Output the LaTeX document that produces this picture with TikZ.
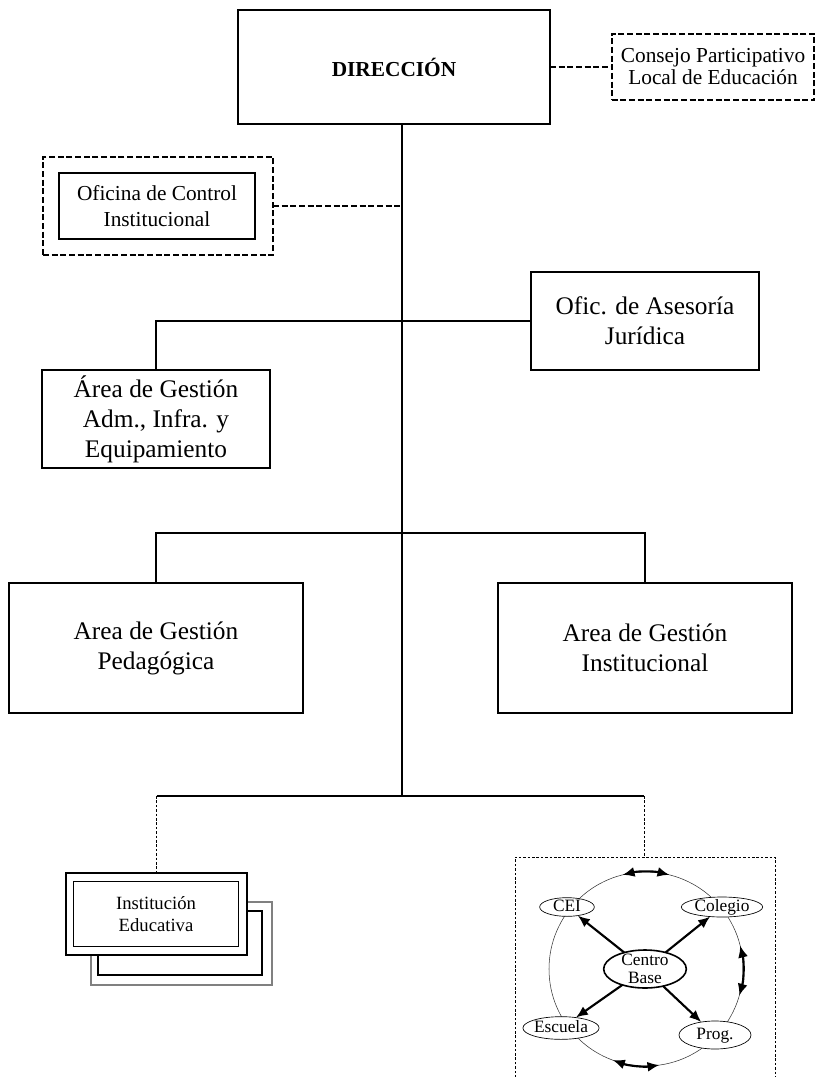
\documentclass[tikz,border=0pt]{standalone}
\usepackage{fontspec}
\setmainfont{Liberation Serif}
\usetikzlibrary{shapes.geometric,arrows.meta}

\begin{document}
\begin{tikzpicture}[x=0.75pt,y=-0.75pt]
\tikzstyle{every node}+=[inner sep=0pt, outer sep=0pt, align=center]
\tikzstyle{caja}=[draw=black, line width=1.6pt, fill=white]
\tikzstyle{cajapunt}=[draw=black, line width=1.5pt, dash pattern=on 4.5pt off 2pt]
\tikzstyle{linea}=[black, line width=1.8pt]
\tikzstyle{punteada}=[black, line width=1.5pt, dash pattern=on 4.5pt off 2pt]
\tikzstyle{fina}=[black, line width=0.6pt, dash pattern=on 2pt off 1.3pt]
\tikzstyle{elip}=[draw=black, ellipse, fill=white, line width=0.5pt, font=\fontsize{13}{13.5}\selectfont, text height=8.5pt, text depth=2.5pt, inner ysep=-2pt]
\tikzstyle{flecha}=[black, line width=1.6pt, -{Latex[length=9pt,width=7.5pt]}]
\tikzstyle{dobleflecha}=[black, line width=1.6pt, {Latex[length=9pt,width=7.5pt]}-{Latex[length=9pt,width=7.5pt]}]
\tikzstyle{grande}=[font=\fontsize{19}{22.5}\selectfont]
\tikzstyle{mediana}=[font=\fontsize{16}{20}\selectfont]

\useasboundingbox (0,0) rectangle (819,1077);

\node [caja, minimum width=234pt, minimum height=86pt, font=\fontsize{16}{19}\selectfont\bfseries] (dir) at (394,67) {DIRECCIÓN};
\node [cajapunt, minimum width=152pt, minimum height=50pt, font=\fontsize{16}{16.5}\selectfont] (consejo) at (713,67) {Consejo Participativo\\Local de Educación};
\draw [punteada] (dir.east) -- (dir.east -| consejo.west);

\coordinate (tronco) at (402,796);
\draw [linea] (tronco |- dir.south) -- (tronco);

\node [cajapunt, minimum width=172.5pt, minimum height=73.5pt] (ocout) at (158,206) {};
\node [caja, line width=1.3pt, minimum width=147pt, minimum height=49.5pt, mediana] (oci) at (157,206) {Oficina de Control\\Institucional};
\draw [punteada] (ocout.east) -- (ocout.east -| tronco);

\node [caja, minimum width=171pt, minimum height=73.5pt, grande] (ases) at (645,321) {Ofic. de Asesoría\\Jurídica};
\node [caja, minimum width=171pt, minimum height=73.5pt, grande] (adm) at (156,419) {Área de Gestión\\Adm., Infra. y\\Equipamiento};
\draw [linea] (adm.north) |- (ases.west);

\node [caja, minimum width=220.5pt, minimum height=97.5pt, grande] (pedag) at (156,648) {Area de Gestión\\Pedagógica};
\node [caja, minimum width=220.5pt, minimum height=97.5pt, grande] (instit) at (645,648) {Area de Gestión\\Institucional};
\coordinate (rama) at (402,533);
\draw [linea] (pedag.north) |- (rama) -| (instit.north);

\node [draw=gray, fill=white, line width=0.8pt, minimum width=135.75pt, minimum height=62.25pt] (ieatras) at (181.5,943.5) {};
\node [draw=black, fill=white, line width=0.8pt, minimum width=123pt, minimum height=48pt] (ieatras2) at (180,943) {};
\node [caja, line width=1.8pt, minimum width=135.75pt, minimum height=61.5pt] (ief) at (156.5,914) {};
\node [draw=black, line width=0.7pt, minimum width=123.75pt, minimum height=48.75pt, font=\fontsize{14}{17}\selectfont] (ie) at (156,914) {Institución\\Educativa};

\coordinate (cbtop) at (644,857);
\draw [linea] (ief.north |- tronco) -- (cbtop |- tronco);
\draw [fina] (ief.north |- tronco) -- (ief.north);
\draw [fina] (cbtop |- tronco) -- (cbtop);
\draw [fina] (515,1082) |- (cbtop) -| (775,1082);

\node [circle, draw=black!80, line width=0.4pt, minimum size=145.5pt] (anillo) at (646,969) {};
\node [elip, minimum width=41pt, minimum height=14pt] (cei) at (567,907) {CEI};
\node [elip, minimum width=61pt, minimum height=15pt] (colegio) at (722,907) {Colegio};
\node [elip, minimum width=52.5pt, minimum height=17pt] (escuela) at (561,1028) {Escuela};
\node [elip, minimum width=54pt, minimum height=21pt] (prog) at (715,1035) {Prog.};
\node [draw=black, ellipse, fill=white, line width=1.2pt, inner ysep=-2.5pt, minimum width=62pt, minimum height=28.5pt, font=\fontsize{13}{13.5}\selectfont] (cb) at (645,969) {Centro\\Base};

\draw [flecha] (cb) -- (cei);
\draw [flecha] (cb) -- (colegio);
\draw [flecha] (cb) -- (escuela);
\draw [flecha] (cb) -- (prog);
\draw [dobleflecha] (anillo.104) arc [start angle=104, end angle=76, radius=72.75pt];
\draw [dobleflecha] (anillo.14) arc [start angle=14, end angle=-16, radius=72.75pt];
\draw [dobleflecha] (anillo.250) arc [start angle=250, end angle=278, radius=72.75pt];
\end{tikzpicture}
\end{document}
